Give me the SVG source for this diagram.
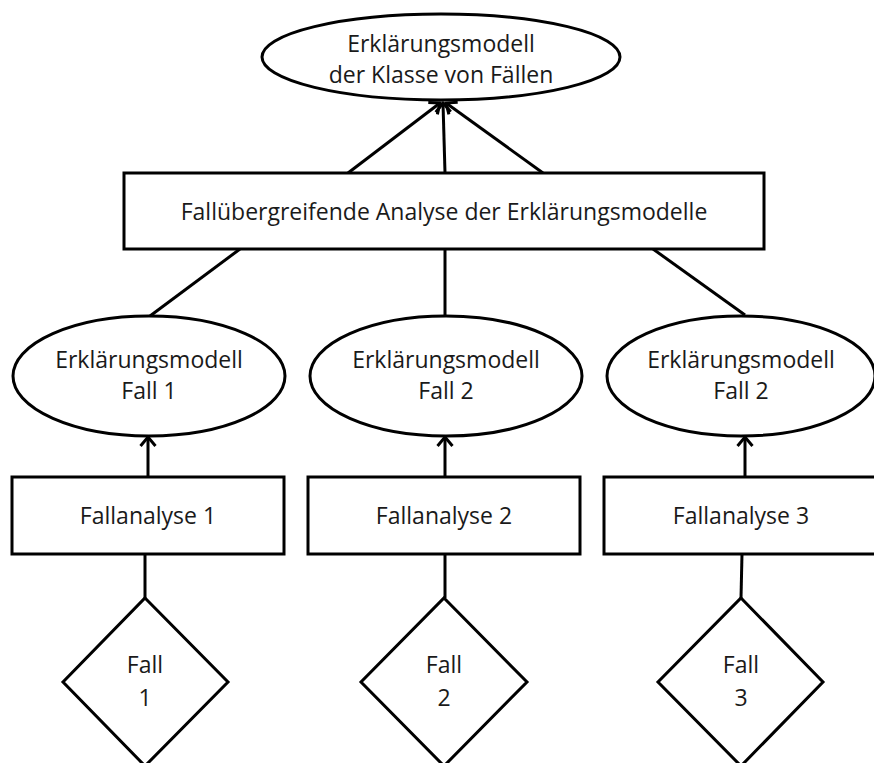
<svg xmlns="http://www.w3.org/2000/svg" width="874" height="763" viewBox="0 0 874 763">
  <style>
    .shape { fill: #ffffff; stroke: #000000; stroke-width: 3; }
    .link { fill: none; stroke: #000000; stroke-width: 3; }
    .label { font-family: "Open Sans", "Liberation Sans", sans-serif; font-size: 23px; fill: #1a1a1a; text-anchor: middle; }
  </style>
  <defs>
    <marker id="open-arrow" viewBox="0 0 14 18" refX="11" refY="9" markerWidth="14" markerHeight="18" markerUnits="userSpaceOnUse" orient="auto">
      <path d="M 2 1.5 L 11 9 L 2 16.5" fill="none" stroke="#000000" stroke-width="3"/>
    </marker>
  </defs>

  <g id="connectors">
    <!-- cross-case analysis to the class model -->
    <line class="link" x1="348" y1="173" x2="440" y2="103" marker-end="url(#open-arrow)"/>
    <line class="link" x1="445" y1="173" x2="443" y2="103" marker-end="url(#open-arrow)"/>
    <line class="link" x1="543" y1="173" x2="446" y2="103" marker-end="url(#open-arrow)"/>
    <!-- case models to cross-case analysis -->
    <line class="link" x1="150" y1="316" x2="240" y2="249"/>
    <line class="link" x1="445" y1="315" x2="445" y2="249"/>
    <line class="link" x1="745" y1="315" x2="653" y2="249"/>
    <!-- case analyses to case models -->
    <line class="link" x1="148" y1="477" x2="148" y2="437" marker-end="url(#open-arrow)"/>
    <line class="link" x1="445" y1="477" x2="445" y2="437" marker-end="url(#open-arrow)"/>
    <line class="link" x1="745" y1="477" x2="745" y2="437" marker-end="url(#open-arrow)"/>
    <!-- cases to case analyses -->
    <line class="link" x1="145" y1="598" x2="145" y2="554"/>
    <line class="link" x1="445" y1="598" x2="445" y2="554"/>
    <line class="link" x1="741" y1="598" x2="742" y2="554"/>
  </g>

  <g id="modell-klasse">
    <ellipse class="shape" cx="441" cy="57" rx="179" ry="43"/>
    <text class="label" x="441" y="52">Erklärungsmodell</text>
    <text class="label" x="441" y="83">der Klasse von Fällen</text>
  </g>

  <g id="falluebergreifende-analyse">
    <rect class="shape" x="124" y="173" width="640" height="76"/>
    <text class="label" x="444" y="220">Fallübergreifende Analyse der Erklärungsmodelle</text>
  </g>

  <g id="modell-fall-1">
    <ellipse class="shape" cx="149" cy="376" rx="136" ry="60"/>
    <text class="label" x="149" y="368">Erklärungsmodell</text>
    <text class="label" x="149" y="399">Fall 1</text>
  </g>
  <g id="modell-fall-2">
    <ellipse class="shape" cx="446" cy="376" rx="136" ry="60"/>
    <text class="label" x="446" y="368">Erklärungsmodell</text>
    <text class="label" x="446" y="399">Fall 2</text>
  </g>
  <g id="modell-fall-3">
    <ellipse class="shape" cx="741" cy="376" rx="134" ry="60"/>
    <text class="label" x="741" y="368">Erklärungsmodell</text>
    <text class="label" x="741" y="399">Fall 2</text>
  </g>

  <g id="fallanalyse-1">
    <rect class="shape" x="12" y="477" width="272" height="77"/>
    <text class="label" x="148" y="524">Fallanalyse 1</text>
  </g>
  <g id="fallanalyse-2">
    <rect class="shape" x="308" y="477" width="272" height="77"/>
    <text class="label" x="444" y="524">Fallanalyse 2</text>
  </g>
  <g id="fallanalyse-3">
    <rect class="shape" x="604" y="477" width="274" height="77"/>
    <text class="label" x="741" y="524">Fallanalyse 3</text>
  </g>

  <g id="fall-1">
    <polygon class="shape" points="145,598 228,682 145,766 63,682"/>
    <text class="label" x="145" y="673">Fall</text>
    <text class="label" x="145" y="706">1</text>
  </g>
  <g id="fall-2">
    <polygon class="shape" points="444,598 527,682 444,766 361,682"/>
    <text class="label" x="444" y="673">Fall</text>
    <text class="label" x="444" y="706">2</text>
  </g>
  <g id="fall-3">
    <polygon class="shape" points="741,598 823,682 741,766 658,682"/>
    <text class="label" x="741" y="673">Fall</text>
    <text class="label" x="741" y="706">3</text>
  </g>
</svg>
